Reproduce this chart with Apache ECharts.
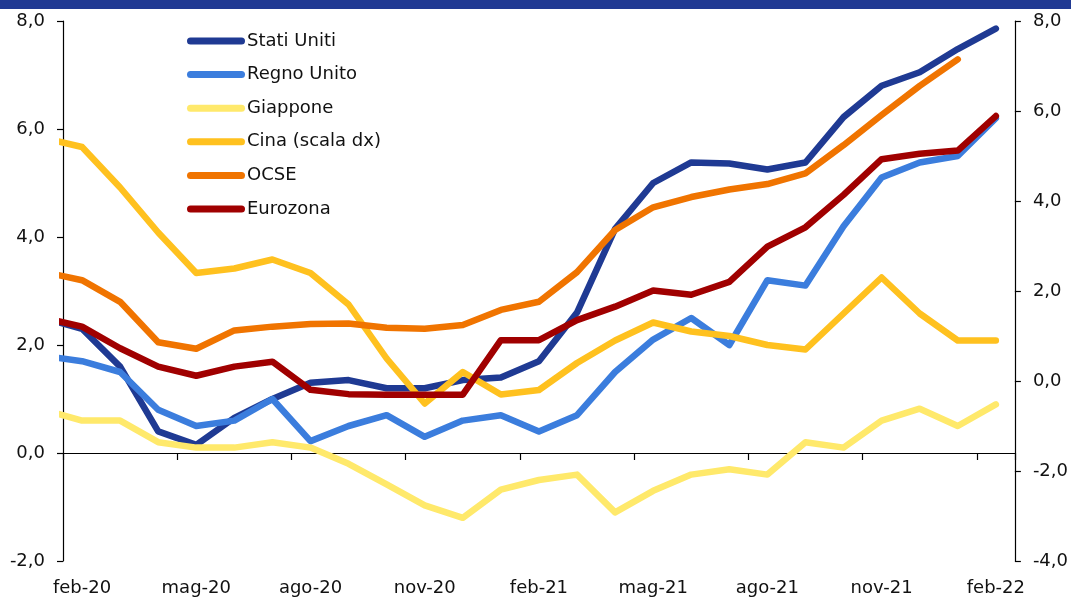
<!DOCTYPE html>
<html>
<head>
<meta charset="utf-8">
<script src="https://cdn.jsdelivr.net/npm/echarts@6/dist/echarts.min.js"></script>
<style>
  html, body { margin: 0; padding: 0; background: #fff; }
  #chart { width: 1071px; height: 597px; }
</style>
</head>
<body>
<div id="chart"></div>
<script>
// mesi (gen-20 serve solo per il tratto che entra dal bordo sinistro)
var mesi = ['gen-20','feb-20','mar-20','apr-20','mag-20','giu-20','lug-20','ago-20','set-20','ott-20','nov-20','dic-20',
            'gen-21','feb-21','mar-21','apr-21','mag-21','giu-21','lug-21','ago-21','set-21','ott-21','nov-21','dic-21',
            'gen-22','feb-22'];

var statiUniti = [2.5, 2.3, 1.6, 0.4, 0.15, 0.65, 1.0, 1.3, 1.35, 1.2, 1.2, 1.35, 1.4, 1.7, 2.6, 4.15, 5.0, 5.38, 5.36, 5.25, 5.38, 6.22, 6.8, 7.05, 7.48, 7.86];
var regnoUnito = [1.8, 1.7, 1.5, 0.8, 0.5, 0.6, 1.0, 0.22, 0.5, 0.7, 0.3, 0.6, 0.7, 0.4, 0.7, 1.5, 2.1, 2.5, 2.0, 3.2, 3.1, 4.2, 5.1, 5.38, 5.5, 6.2];
var giappone = [0.8, 0.6, 0.6, 0.2, 0.1, 0.1, 0.2, 0.1, -0.2, -0.58, -0.97, -1.2, -0.68, -0.5, -0.4, -1.1, -0.7, -0.4, -0.3, -0.4, 0.2, 0.1, 0.6, 0.82, 0.5, 0.9];
var cina = [5.4, 5.2, 4.3, 3.3, 2.4, 2.5, 2.7, 2.4, 1.7, 0.5, -0.5, 0.2, -0.3, -0.2, 0.4, 0.9, 1.3, 1.1, 1.0, 0.8, 0.7, 1.5, 2.3, 1.5, 0.9, 0.9];
var ocse = [3.35, 3.2, 2.8, 2.05, 1.93, 2.27, 2.34, 2.39, 2.4, 2.32, 2.3, 2.37, 2.65, 2.8, 3.35, 4.13, 4.55, 4.74, 4.88, 4.98, 5.18, 5.7, 6.26, 6.8, 7.29, null];
var eurozona = [2.5, 2.34, 1.94, 1.6, 1.43, 1.6, 1.69, 1.17, 1.09, 1.08, 1.08, 1.08, 2.09, 2.09, 2.46, 2.71, 3.01, 2.93, 3.17, 3.82, 4.18, 4.78, 5.44, 5.54, 5.6, 6.24];

var nomi = ['Stati Uniti', 'Regno Unito', 'Giappone', 'Cina (scala dx)', 'OCSE', 'Eurozona'];
var colori = ['#1f3a93', '#3b7ddd', '#ffe96b', '#ffc11f', '#f07400', '#a00000'];

var font = 'DejaVu Sans';

function fmt(v) {
    return v.toFixed(1).replace('.', ',');
}
function ogniTre(idx) {
    return idx % 3 === 1;
}

var chart = echarts.init(document.getElementById('chart'));

function linea(nome, dati, col, asse) {
    return {
        name: nome,
        type: 'line',
        xAxisIndex: 0,
        yAxisIndex: asse,
        data: dati,
        symbol: 'none',
        clip: true,
        lineStyle: { width: 6.5, color: col, cap: 'round', join: 'round' },
        itemStyle: { color: col }
    };
}

var option = {
    animation: false,
    backgroundColor: '#fff',
    textStyle: { fontFamily: font },
    graphic: [{
        type: 'rect',
        shape: { x: 0, y: 0, width: 1071, height: 9 },
        style: { fill: '#213a93' }
    }],
    legend: {
        orient: 'vertical',
        left: 182,
        top: 26,
        itemWidth: 58,
        itemHeight: 7,
        itemGap: 13.6,
        icon: 'path://M3.5,0 H54.5 A3.5,3.5 0 0 1 54.5,7 H3.5 A3.5,3.5 0 0 1 3.5,0 Z',
        data: nomi,
        textStyle: { fontFamily: font, fontSize: 18, color: '#111', lineHeight: 20, padding: [0, 0, 0, -3] }
    },
    grid: { left: 63, right: 56, top: 21, bottom: 36, containLabel: false },
    xAxis: [{
        type: 'category',
        data: mesi,
        min: 1,
        boundaryGap: true,
        axisLine: { onZero: true, onZeroAxisIndex: 0, lineStyle: { color: '#000', width: 1.2 } },
        axisTick: { show: true, interval: ogniTre, length: 7, inside: false, lineStyle: { color: '#000', width: 1.2 } },
        axisLabel: { show: false },
        splitLine: { show: false }
    }, {
        type: 'category',
        data: mesi,
        min: 1,
        position: 'bottom',
        boundaryGap: true,
        axisLine: { show: false, onZero: false },
        axisTick: { show: false },
        axisLabel: { interval: ogniTre, margin: 18, fontFamily: font, fontSize: 18, color: '#111' },
        splitLine: { show: false }
    }],
    yAxis: [{
        type: 'value',
        min: -2,
        max: 8,
        interval: 2,
        position: 'left',
        axisLine: { show: true, lineStyle: { color: '#000', width: 1.2 } },
        axisTick: { show: true, length: 6, lineStyle: { color: '#000', width: 1.2 } },
        axisLabel: { formatter: fmt, margin: 18, fontFamily: font, fontSize: 18, color: '#111' },
        splitLine: { show: false }
    }, {
        type: 'value',
        min: -4,
        max: 8,
        interval: 2,
        position: 'right',
        axisLine: { show: true, lineStyle: { color: '#000', width: 1.2 } },
        axisTick: { show: true, length: 6, lineStyle: { color: '#000', width: 1.2 } },
        axisLabel: { formatter: fmt, margin: 18, fontFamily: font, fontSize: 18, color: '#111' },
        splitLine: { show: false }
    }],
    series: [
        linea(nomi[0], statiUniti, colori[0], 0),
        linea(nomi[1], regnoUnito, colori[1], 0),
        linea(nomi[2], giappone, colori[2], 0),
        linea(nomi[3], cina, colori[3], 1),
        linea(nomi[4], ocse, colori[4], 0),
        linea(nomi[5], eurozona, colori[5], 0)
    ]
};

chart.setOption(option);
</script>
</body>
</html>
